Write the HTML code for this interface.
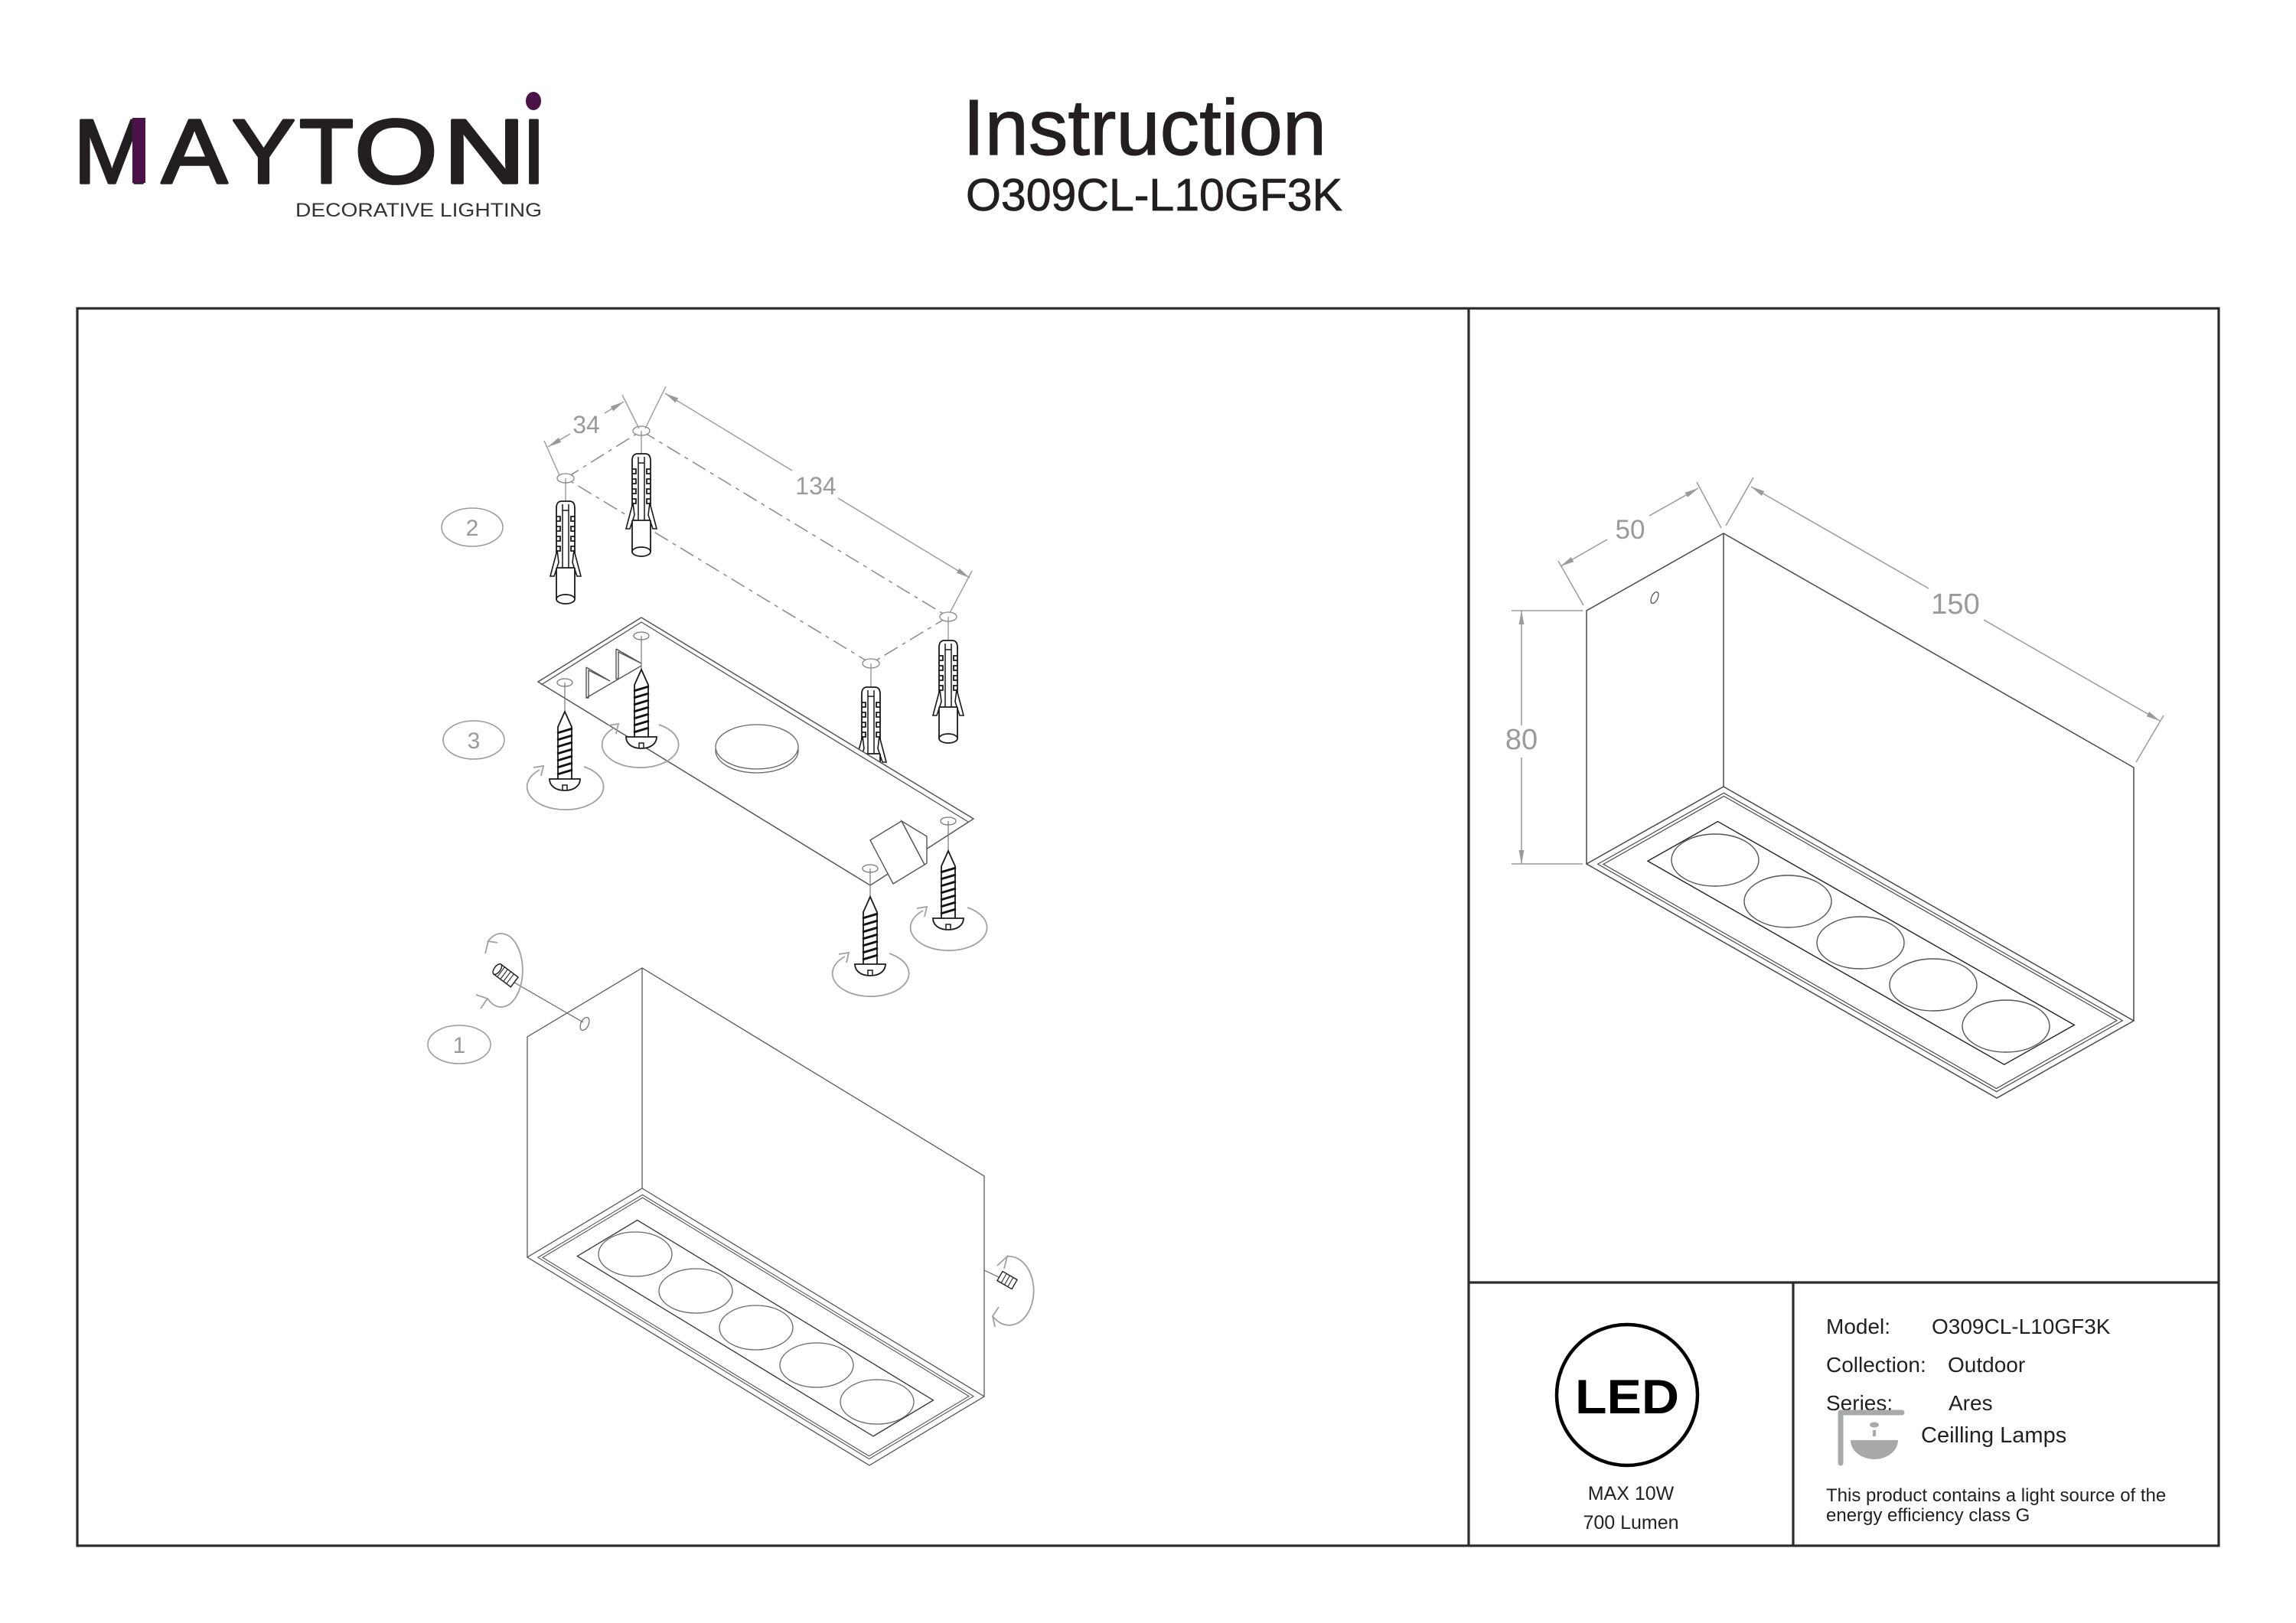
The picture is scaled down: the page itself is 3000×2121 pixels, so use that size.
<!DOCTYPE html>
<html><head><meta charset="utf-8">
<style>
html,body{margin:0;padding:0;background:#fff;}
body{width:3000px;height:2121px;overflow:hidden;}
svg{display:block;}
.ns{vector-effect:non-scaling-stroke;}
text{font-family:"Liberation Sans",Arial,sans-serif;}
</style></head>
<body>
<svg width="3000" height="2121" viewBox="0 0 3000 2121" xmlns="http://www.w3.org/2000/svg">
<defs>
  <marker id="ar" viewBox="0 0 18 7" refX="18" refY="3.5" markerWidth="18" markerHeight="7" markerUnits="userSpaceOnUse" orient="auto-start-reverse">
    <path d="M0,0 L18,3.5 L0,7 z" fill="#9a9a9a"/>
  </marker>
  <g id="anc">
    <path d="M-12,76 V9 Q-12,0 -5,0 H5 Q12,0 12,9 V76" fill="#fff" stroke="#1a1a1a" stroke-width="1.8"/>
    <path d="M-12,20 h5 v6 h-5 M-12,33 h5 v6 h-5 M-12,46 h5 v6 h-5 M-12,59 h5 v6 h-5 M12,20 h-5 v6 h5 M12,33 h-5 v6 h5 M12,46 h-5 v6 h5 M12,59 h-5 v6 h5" fill="none" stroke="#1a1a1a" stroke-width="1.8"/>
    <path d="M-4,4 V88 M4,4 V88 M-4,12 H4" fill="none" stroke="#1a1a1a" stroke-width="1.5"/>
    <path d="M-11,64 L-20,98 L-15,98 L-9,80 Z M11,64 L20,98 L15,98 L9,80 Z" fill="#fff" stroke="#1a1a1a" stroke-width="1.6"/>
    <rect x="-12" y="87" width="24" height="41" fill="#fff"/>
    <path d="M-12,87 V128 M12,87 V128 M-12,87 H12" fill="none" stroke="#1a1a1a" stroke-width="1.8"/>
    <ellipse cx="0" cy="128" rx="12" ry="6" fill="#fff" stroke="#1a1a1a" stroke-width="1.8"/>
  </g>
  <g id="scr">
    <path d="M-9,88 V20 L0,0 L9,20 V88" fill="#fff" stroke="#1a1a1a" stroke-width="1.8"/>
    <path d="M-10,28 L10,22 M-10,37 L10,31 M-10,46 L10,40 M-10,55 L10,49 M-10,64 L10,58 M-10,73 L10,67 M-10,82 L10,76" stroke="#111" stroke-width="3"/>
    <path d="M-20,88 H20 C20,97 12,103 0,103 C-12,103 -20,97 -20,88 Z" fill="#fff" stroke="#1a1a1a" stroke-width="1.8"/>
    <path d="M-3,103 V96 H3 V103" fill="none" stroke="#1a1a1a" stroke-width="1.5"/>
  </g>
  <g id="rot" fill="none" stroke="#a0a0a0" stroke-width="1.8">
    <path d="M25,-26 A50 30 0 1 1 -33,-22"/>
    <path d="M-41,-25 L-28,-27 L-31,-14"/>
  </g>
</defs>

<!-- ===== HEADER ===== -->
<g fill="#231f20" stroke="#231f20" stroke-width="3.5" stroke-linejoin="round">
  <text x="96" y="239" font-size="119" textLength="100" lengthAdjust="spacingAndGlyphs">M</text>
  <text x="211" y="239" font-size="119" textLength="86" lengthAdjust="spacingAndGlyphs">A</text>
  <text x="303" y="239" font-size="119" textLength="83" lengthAdjust="spacingAndGlyphs">Y</text>
  <text x="391" y="239" font-size="119" textLength="71" lengthAdjust="spacingAndGlyphs">T</text>
  <text x="463" y="239" font-size="119" textLength="109" lengthAdjust="spacingAndGlyphs">O</text>
  <text x="579" y="239" font-size="119" textLength="108" lengthAdjust="spacingAndGlyphs">N</text>
  <text x="683" y="239" font-size="119" textLength="29" lengthAdjust="spacingAndGlyphs">I</text>
</g>
<rect x="173" y="154" width="17" height="85" fill="#4b1248"/>
<ellipse cx="697" cy="132" rx="10" ry="12" fill="#4b1248"/>
<text x="386" y="283" font-size="25" fill="#333" textLength="322" lengthAdjust="spacingAndGlyphs">DECORATIVE LIGHTING</text>

<text x="1258" y="202" font-size="103" fill="#231f20" stroke="#231f20" stroke-width="1.2">Instruction</text>
<text x="1262" y="275" font-size="59" fill="#231f20" stroke="#231f20" stroke-width="0.8">O309CL-L10GF3K</text>

<!-- ===== FRAME ===== -->
<g fill="none" stroke="#2b2b2b" stroke-width="3.2">
  <rect x="101" y="403" width="2798" height="1617"/>
  <path d="M1919,403 V2020 M1919,1676 H2899 M2343,1676 V2020"/>
</g>

<!-- ===== LEFT DRAWING ===== -->
<g fill="none" stroke="#8a8a8a" stroke-width="1.5" stroke-dasharray="20 7 5 7">
  <path d="M739,625 L838,563 L1239,806 L1138,867 Z"/>
</g>
<g fill="#fff" stroke="#888" stroke-width="1.3">
  <ellipse cx="739" cy="625" rx="11" ry="6"/>
  <ellipse cx="838" cy="563" rx="11" ry="6"/>
  <ellipse cx="1239" cy="806" rx="11" ry="6"/>
  <ellipse cx="1138" cy="867" rx="11" ry="6"/>
</g>
<g fill="none" stroke="#9a9a9a" stroke-width="1.4">
  <path d="M731,621 L711,576 M835,560 L813,516 M843,560 L870,505 M1241,801 L1270,746"/>
  <path d="M745,567 L716,584" marker-end="url(#ar)"/>
  <path d="M790,540 L815,525" marker-end="url(#ar)"/>
  <path d="M1035,615 L869,514" marker-end="url(#ar)"/>
  <path d="M1095,651 L1267,755" marker-end="url(#ar)"/>
</g>
<g fill="#9a9a9a" font-size="32" text-anchor="middle">
  <text x="766" y="566">34</text>
  <text x="1066" y="646">134</text>
</g>
<g fill="none" stroke="#9a9a9a" stroke-width="1.5">
  <ellipse cx="617" cy="689" rx="40" ry="25"/>
  <ellipse cx="619" cy="967" rx="40" ry="25"/>
  <ellipse cx="600" cy="1365" rx="41" ry="25"/>
</g>
<g fill="#9a9a9a" font-size="30" text-anchor="middle">
  <text x="617" y="700">2</text>
  <text x="619" y="978">3</text>
  <text x="600" y="1376">1</text>
</g>
<g stroke="#888" stroke-width="1.2">
  <path d="M739,625 V655 M838,563 V593 M1138,867 V898 M1239,806 V837"/>
</g>
<use href="#anc" x="739" y="655"/>
<use href="#anc" x="838" y="593"/>
<use href="#anc" x="1239" y="837"/>
<use href="#anc" x="1138" y="898"/>

<polygon points="838,807 1272,1070 1137,1157 703,891" fill="#fff" stroke="#555" stroke-width="1.5"/>
<polyline points="707,895 838,813 1265,1074" fill="none" stroke="#555" stroke-width="1.3"/>
<ellipse cx="989" cy="981" rx="54" ry="29" fill="#fff" stroke="#666" stroke-width="1.3"/>
<ellipse cx="989" cy="976" rx="54" ry="29" fill="#fff" stroke="#666" stroke-width="1.3"/>
<g fill="none" stroke="#555" stroke-width="1.4">
  <path d="M766,872 L766,912 L769,912 L769,876 L797,890 L766,872"/>
  <path d="M805,848 L805,887 L808,887 L808,852 L838,867 L805,848"/>
  <path d="M766,912 L838,870"/>
</g>
<g fill="#fff" stroke="#555" stroke-width="1.4">
  <polygon points="1178,1073 1211,1093 1211,1128 1208,1130"/>
  <polygon points="1137,1098 1178,1073 1208,1130 1167,1155"/>
</g>
<g fill="#fff" stroke="#777" stroke-width="1.3">
  <ellipse cx="738" cy="892" rx="10" ry="5"/>
  <ellipse cx="838" cy="831" rx="10" ry="5"/>
  <ellipse cx="1137" cy="1135" rx="10" ry="5"/>
  <ellipse cx="1239" cy="1073" rx="10" ry="5"/>
</g>
<g stroke="#777" stroke-width="1.2">
  <path d="M738,892 V930 M838,831 V875 M1137,1135 V1172 M1239,1073 V1112"/>
</g>
<use href="#rot" x="738" y="1028"/>
<use href="#rot" x="836" y="973"/>
<use href="#rot" x="1137" y="1272"/>
<use href="#rot" x="1239" y="1212"/>
<use href="#scr" x="738" y="930"/>
<use href="#scr" x="838" y="875"/>
<use href="#scr" x="1137" y="1172"/>
<use href="#scr" x="1239" y="1112"/>

<g fill="none" stroke="#5a5a5a" stroke-width="1.3">
  <path d="M689,1643 V1355 L839,1265 L1286,1537 V1825 M839,1265 V1553"/>
</g>
<g transform="matrix(447 272 -150 90 839 1553)" fill="none" stroke="#555">
  <rect class="ns" x="0" y="0" width="1" height="1" stroke-width="1.3"/>
  <rect class="ns" x="0.016" y="0.045" width="0.968" height="0.91" stroke-width="1.1"/>
  <rect class="ns" x="0.023" y="0.065" width="0.954" height="0.87" stroke-width="1.1"/>
  <rect class="ns" x="0.07" y="0.25" width="0.865" height="0.523" stroke-width="1.3" stroke="#333"/>
</g>
<g fill="none" stroke="#666" stroke-width="1.3">
  <ellipse cx="830" cy="1639" rx="48" ry="29"/>
  <ellipse cx="909" cy="1687" rx="48" ry="29"/>
  <ellipse cx="988" cy="1735" rx="48" ry="29"/>
  <ellipse cx="1067" cy="1784" rx="48" ry="29"/>
  <ellipse cx="1146" cy="1832" rx="48" ry="29"/>
</g>
<path d="M672,1284 L762,1336" stroke="#666" stroke-width="1.2"/>
<ellipse cx="764" cy="1338" rx="5" ry="9" transform="rotate(25 764 1338)" fill="none" stroke="#666" stroke-width="1.2"/>
<g transform="translate(661,1275) rotate(37)">
  <rect x="-14" y="-8" width="28" height="16" fill="#fff" stroke="#222" stroke-width="1.5"/>
  <path d="M-8,-8 V8 M-3,-8 V8 M2,-8 V8 M7,-8 V8" stroke="#333" stroke-width="1.2"/>
  <ellipse cx="-14" cy="0" rx="4" ry="8" fill="#fff" stroke="#222" stroke-width="1.5"/>
</g>
<g fill="none" stroke="#a0a0a0" stroke-width="1.8">
  <path d="M637,1231 A28 48 0 1 1 637,1305"/>
  <path d="M634,1246 L638,1230 L650,1232"/>
  <path d="M622,1300 L637,1305 L628,1318"/>
</g>
<path d="M1286,1660 L1305,1669" stroke="#666" stroke-width="1.2"/>
<g transform="translate(1316,1673) rotate(30)">
  <rect x="-11" y="-7" width="22" height="14" fill="#fff" stroke="#222" stroke-width="1.4"/>
  <path d="M-5,-7 V7 M0,-7 V7 M5,-7 V7" stroke="#333" stroke-width="1.1"/>
</g>
<g fill="none" stroke="#a0a0a0" stroke-width="1.8">
  <path d="M1316,1642 A32 45 0 1 1 1297,1720"/>
  <path d="M1303,1654 L1316,1642 L1312,1658"/>
  <path d="M1305,1708 L1297,1720 L1300,1734"/>
</g>

<!-- ===== RIGHT DRAWING ===== -->
<g fill="none" stroke="#4a4a4a" stroke-width="1.5">
  <path d="M2073,1129 V798 L2252,697 L2788,1003 V1334 M2252,697 V1028"/>
</g>
<g transform="matrix(536 306 -179 101 2252 1028)" fill="none" stroke="#4a4a4a">
  <rect class="ns" x="0" y="0" width="1" height="1" stroke-width="1.5"/>
  <rect class="ns" x="0.014" y="0.04" width="0.972" height="0.92" stroke-width="1.2"/>
  <rect class="ns" x="0.021" y="0.06" width="0.958" height="0.88" stroke-width="1.2"/>
  <rect class="ns" x="0.068" y="0.245" width="0.869" height="0.512" stroke-width="1.4" stroke="#222"/>
</g>
<g fill="none" stroke="#555" stroke-width="1.4">
  <ellipse cx="2241" cy="1124" rx="57" ry="34"/>
  <ellipse cx="2336" cy="1178" rx="57" ry="34"/>
  <ellipse cx="2431" cy="1232" rx="57" ry="34"/>
  <ellipse cx="2526" cy="1287" rx="57" ry="34"/>
  <ellipse cx="2621" cy="1341" rx="57" ry="34"/>
</g>
<ellipse cx="2162" cy="781" rx="4" ry="8" transform="rotate(25 2162 781)" fill="none" stroke="#555" stroke-width="1.3"/>
<g fill="none" stroke="#9a9a9a" stroke-width="1.5">
  <path d="M2069,791 L2036,733 M2249,690 L2217,630"/>
  <path d="M2100,705 L2039,740" marker-end="url(#ar)"/>
  <path d="M2155,674 L2219,638" marker-end="url(#ar)"/>
  <path d="M2255,687 L2291,624 M2791,996 L2827,935"/>
  <path d="M2520,769 L2288,636" marker-end="url(#ar)"/>
  <path d="M2592,810 L2822,942" marker-end="url(#ar)"/>
  <path d="M2068,798 L1975,798 M2068,1129 L1975,1129"/>
  <path d="M1988,948 L1988,798" marker-end="url(#ar)"/>
  <path d="M1988,990 L1988,1129" marker-end="url(#ar)"/>
</g>
<g fill="#9a9a9a" text-anchor="middle">
  <text x="2130" y="704" font-size="35">50</text>
  <text x="2555" y="802" font-size="38">150</text>
  <text x="1988" y="979" font-size="38">80</text>
</g>

<!-- ===== INFO CELLS ===== -->
<circle cx="2126" cy="1823" r="92" fill="none" stroke="#000" stroke-width="4.5"/>
<text x="2058" y="1847" font-size="63" font-weight="bold" fill="#000" textLength="136" lengthAdjust="spacingAndGlyphs">LED</text>
<g fill="#231f20" font-size="25" text-anchor="middle">
  <text x="2131" y="1960">MAX 10W</text>
  <text x="2131" y="1998">700 Lumen</text>
</g>

<g fill="#231f20" font-size="28">
  <text x="2386" y="1743">Model:</text>
  <text x="2524" y="1743">O309CL-L10GF3K</text>
  <text x="2386" y="1793">Collection:</text>
  <text x="2545" y="1793">Outdoor</text>
  <text x="2386" y="1843">Series:</text>
  <text x="2546" y="1843">Ares</text>
  <text x="2510" y="1885" font-size="29">Ceilling Lamps</text>
</g>
<g fill="#a8a9ab" stroke="none">
  <path d="M2405,1912 V1846 H2485" fill="none" stroke="#a8a9ab" stroke-width="7" stroke-linecap="round" stroke-linejoin="round"/>
  <ellipse cx="2449" cy="1862" rx="6" ry="3.5"/>
  <rect x="2447" y="1869" width="4" height="8"/>
  <path d="M2418,1882 H2480 A31 25 0 0 1 2418,1882 Z"/>
</g>
<g fill="#231f20" font-size="24">
  <text x="2386" y="1962">This product contains a light source of the</text>
  <text x="2386" y="1988">energy efficiency class G</text>
</g>
</svg>
</body></html>
